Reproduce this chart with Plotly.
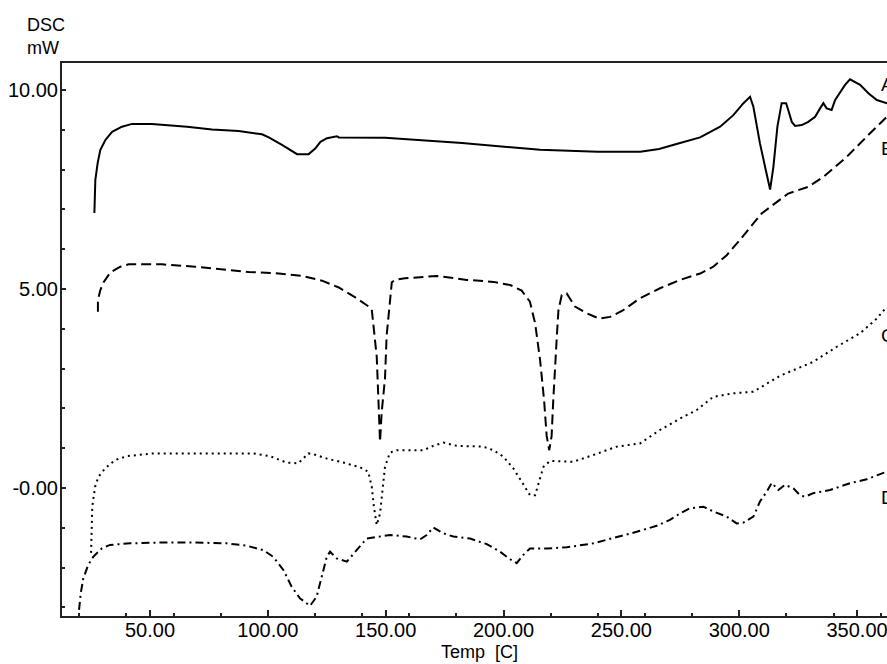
import plotly.graph_objects as go

# ---- data (temperature in C, DSC signal in mW) ----
A_T = [26.4, 26.8, 27.8, 28.9, 31.0, 33.9, 38.1, 42.4, 50.8, 65.7, 76.3, 87.6, 97.5, 100.4, 106.0,
       112.4, 117.3, 120.1, 122.3, 125.1, 129.3, 130.1, 149.8, 165.4, 182.4, 215.5, 240.0, 258.0,
       266.0, 274.9, 283.4, 291.9, 297.5, 301.8, 304.6, 306.0, 308.8, 311.9, 313.1, 314.5, 316.2,
       318.0, 319.9, 320.8, 322.3, 323.7, 326.5, 329.3, 332.2, 334.3, 335.7, 337.1, 339.2, 340.7,
       342.5, 344.9, 347.0, 351.3, 354.8, 358.4, 362.7]
A_V = [6.91, 7.74, 8.17, 8.49, 8.74, 8.95, 9.08, 9.15, 9.15, 9.08, 9.01, 8.97, 8.89, 8.81, 8.62,
       8.39, 8.39, 8.53, 8.70, 8.79, 8.84, 8.81, 8.80, 8.73, 8.67, 8.50, 8.45, 8.45,
       8.52, 8.67, 8.81, 9.08, 9.37, 9.67, 9.83, 9.58, 8.66, 7.82, 7.50, 8.07, 9.08,
       9.67, 9.67, 9.50, 9.20, 9.10, 9.12, 9.20, 9.33, 9.54, 9.67, 9.54, 9.50, 9.75,
       9.92, 10.13, 10.27, 10.13, 9.92, 9.75, 9.67]

B_T = [27.9, 27.9, 28.9, 30.4, 33.2, 37.4, 41.0, 55.1, 69.2, 80.6, 91.9, 104.6, 114.5, 123.0,
       130.1, 137.1, 142.8, 144.1, 146.2, 147.3, 147.6, 148.3, 149.7, 150.4, 151.5, 152.6, 154.0,
       158.2, 171.6, 184.4, 195.7, 202.8, 207.7, 211.2, 213.4, 215.5, 217.2, 218.3, 219.4, 220.4,
       221.1, 221.9, 222.6, 223.3, 224.7, 226.8, 230.3, 235.3, 240.5, 245.2, 250.8, 257.9, 266.4,
       274.9, 283.4, 289.0, 294.7, 300.5, 309.5, 320.8, 329.3, 335.7, 345.6, 354.1, 361.2, 362.7]
B_V = [4.43, 4.72, 4.97, 5.18, 5.42, 5.56, 5.62, 5.62, 5.56, 5.50, 5.43, 5.39, 5.33, 5.21,
       5.04, 4.79, 4.56, 4.48, 3.30, 1.62, 1.16, 1.91, 2.75, 3.83, 4.59, 5.17, 5.23,
       5.27, 5.33, 5.23, 5.18, 5.10, 4.96, 4.68, 4.14, 3.22, 2.21, 1.31, 0.95, 1.31,
       2.21, 3.22, 3.80, 4.47, 4.85, 4.89, 4.56, 4.39, 4.26, 4.30, 4.47, 4.77, 5.02,
       5.23, 5.39, 5.56, 5.85, 6.25, 6.90, 7.40, 7.57, 7.82, 8.32, 8.83, 9.25, 9.33]

C_T = [25.0, 25.5, 26.7, 28.1, 30.9, 35.1, 40.1, 51.4, 68.4, 93.8, 100.9, 108.0, 112.9, 115.0,
       117.2, 119.3, 125.0, 132.0, 139.1, 142.6, 144.1, 145.0, 146.2, 147.6, 148.7, 149.7, 151.8,
       154.7, 166.0, 170.2, 174.5, 180.1, 191.4, 195.7, 199.9, 204.2, 207.7, 211.2, 213.4, 215.5,
       216.9, 219.7, 229.6, 238.1, 248.0, 257.9, 266.4, 276.3, 282.0, 289.0, 297.5, 306.0, 317.3,
       331.4, 341.4, 351.3, 358.4, 362.7]
C_V = [-1.63, -0.47, 0.03, 0.28, 0.49, 0.70, 0.80, 0.87, 0.87, 0.87, 0.80, 0.64, 0.62, 0.74,
       0.87, 0.85, 0.74, 0.64, 0.52, 0.41, 0.03, -0.47, -0.93, -0.64, 0.03, 0.53, 0.89,
       0.95, 0.95, 1.06, 1.14, 1.06, 1.04, 0.95, 0.79, 0.49, 0.16, -0.18, -0.18, 0.28,
       0.53, 0.68, 0.66, 0.83, 1.04, 1.12, 1.46, 1.79, 1.96, 2.29, 2.38, 2.42, 2.82,
       3.17, 3.55, 3.89, 4.26, 4.56]

D_T = [19.9, 20.6, 21.7, 23.8, 25.9, 29.5, 33.0, 41.5, 54.2, 68.4, 82.5, 91.0, 98.1, 102.3,
       106.6, 110.1, 113.6, 117.9, 120.7, 122.9, 125.0, 126.4, 129.2, 133.5, 137.7, 141.9, 151.8,
       158.9, 164.6, 167.4, 170.2, 174.5, 178.7, 185.8, 192.9, 198.5, 202.8, 205.6, 208.4, 211.2,
       218.3, 226.8, 238.1, 248.0, 256.5, 265.0, 270.6, 274.9, 279.1, 284.8, 289.0, 294.7, 298.9,
       301.8, 306.0, 308.8, 311.7, 313.8, 316.6, 319.4, 323.0, 325.8, 327.9, 331.4, 338.5, 347.0,
       354.1, 361.2, 362.7]
D_V = [-3.06, -2.65, -2.27, -1.93, -1.73, -1.52, -1.43, -1.39, -1.37, -1.37, -1.39, -1.45, -1.56, -1.73,
       -2.06, -2.48, -2.77, -2.96, -2.73, -2.23, -1.73, -1.60, -1.77, -1.85, -1.56, -1.27, -1.18,
       -1.22, -1.29, -1.18, -0.99, -1.14, -1.22, -1.27, -1.41, -1.60, -1.79, -1.89, -1.68, -1.52,
       -1.52, -1.49, -1.39, -1.24, -1.10, -0.95, -0.80, -0.64, -0.51, -0.47, -0.59, -0.72, -0.89,
       -0.87, -0.72, -0.34, -0.09, 0.13, -0.05, 0.08, -0.01, -0.18, -0.22, -0.13, -0.05, 0.12,
       0.22, 0.38, 0.41]

CURVE_NAMES = ["A", "B", "C", "D"]
LABEL_V = [10.13, 8.54, 3.84, -0.23]

X_TICKS = [50, 100, 150, 200, 250, 300, 350]
X_MINOR = [20, 40, 60, 80, 120, 140, 160, 180, 220, 240, 260, 280, 320, 340, 360]
Y_TICKS = [0, 5, 10]
Y_TICKTEXT = ["-0.00", "5.00", "10.00"]
Y_MINOR = [-3, -2, -1, 1, 2, 3, 4, 6, 7, 8, 9]

FONT = "Liberation Sans"
AXC = "#222222"

fig = go.Figure()
styles = [("solid", 2), ("10px,5px", 2), ("2px,4px", 2), ("8px,4px,2px,4px", 2)]
for name, T, V, (dash, w) in zip(CURVE_NAMES, [A_T, B_T, C_T, D_T], [A_V, B_V, C_V, D_V], styles):
    fig.add_trace(go.Scatter(x=T, y=V, mode="lines", name=name,
                             line=dict(color="black", width=w, dash=dash),
                             showlegend=False, hoverinfo="skip"))

for name, v in zip(CURVE_NAMES, LABEL_V):
    fig.add_annotation(x=359.8, y=v, xref="x", yref="y", text=name, showarrow=False,
                       xanchor="left", yanchor="middle", borderpad=0,
                       font=dict(family=FONT, size=19, color="black"))

fig.add_annotation(x=-0.0194, y=1.0687, xref="paper", yref="paper", text="DSC", showarrow=False,
                   xanchor="center", yanchor="middle", font=dict(family=FONT, size=18, color="black"))
fig.add_annotation(x=-0.023, y=1.027, xref="paper", yref="paper", text="mW", showarrow=False,
                   xanchor="center", yanchor="middle", font=dict(family=FONT, size=18, color="black"))
fig.add_annotation(x=0.5055, y=-0.0651, xref="paper", yref="paper", text="Temp&nbsp;&nbsp;[C]",
                   showarrow=False, xanchor="center", yanchor="middle",
                   font=dict(family=FONT, size=18, color="black"))

fig.update_xaxes(range=[12.66, 362.7], tickmode="array", tickvals=X_TICKS,
                 ticktext=[f"{t:.2f}" for t in X_TICKS],
                 ticks="inside", ticklen=6, tickwidth=2, tickcolor=AXC, ticklabelstandoff=-5,
                 ticklabeloverflow="allow",
                 showline=True, linecolor=AXC, linewidth=2, mirror=True,
                 showgrid=False, zeroline=False,
                 tickfont=dict(family=FONT, size=20, color="black"),
                 minor=dict(tickmode="array", tickvals=X_MINOR, ticks="inside", ticklen=3,
                            tickwidth=2, tickcolor=AXC, showgrid=False))
fig.update_yaxes(range=[-3.216, 10.68], tickmode="array", tickvals=Y_TICKS, ticktext=Y_TICKTEXT,
                 ticks="inside", ticklen=4, tickwidth=2, tickcolor=AXC, ticklabelstandoff=-2,
                 ticklabeloverflow="allow",
                 showline=True, linecolor=AXC, linewidth=2, mirror=False,
                 showgrid=False, zeroline=False,
                 tickfont=dict(family=FONT, size=20, color="black"),
                 minor=dict(tickmode="array", tickvals=Y_MINOR, ticks="inside", ticklen=3,
                            tickwidth=2, tickcolor=AXC, showgrid=False))

fig.update_layout(width=887, height=664, margin=dict(l=62, r=0, t=63, b=48),
                  paper_bgcolor="white", plot_bgcolor="white", showlegend=False)

# remove the browser's default 8px body margin so the figure fills the window exactly
fig.write_html("out.html", config={"displayModeBar": False},
               post_script="document.body.style.margin='0';document.body.style.overflow='hidden';")
